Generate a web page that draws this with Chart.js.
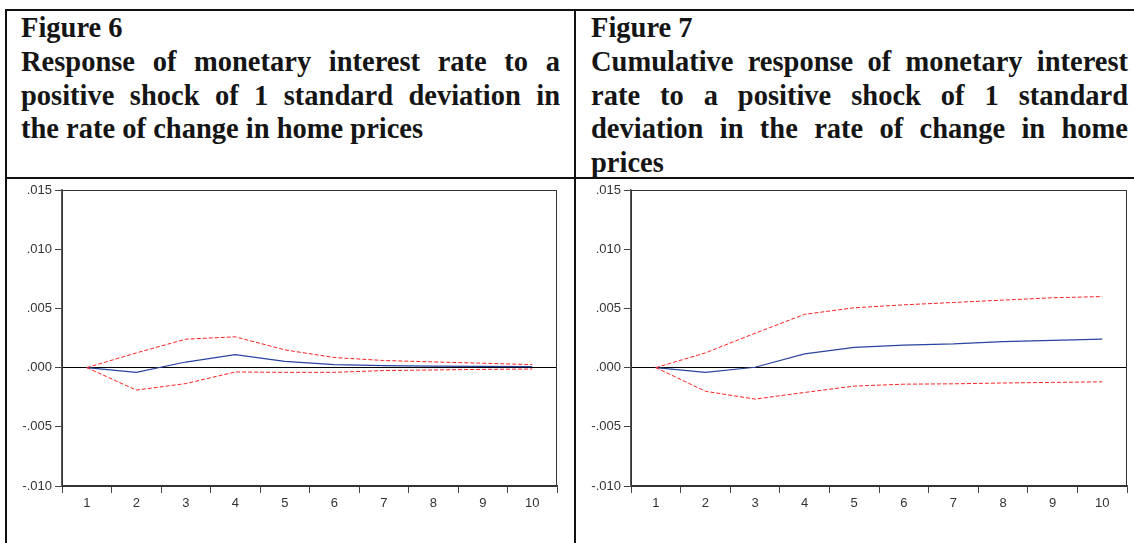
<!DOCTYPE html>
<html>
<head>
<meta charset="utf-8">
<script src="https://cdn.jsdelivr.net/npm/chart.js@4.4.0/dist/chart.umd.min.js"></script>
<style>
  body { margin: 0; background: #fff; width: 1134px; height: 543px; overflow: hidden; position: relative; }
  .rule { position: absolute; background: #111; z-index: 2; }
  .title { position: absolute; top: 11px; font-family: "Liberation Serif", "Times New Roman", serif;
           font-weight: bold; font-size: 28.5px; line-height: 33.75px; color: #151515; }
  .title div { white-space: nowrap; }
  .title .j { text-align: justify; text-align-last: justify; }
  .wrap { position: absolute; top: 178px; height: 365px; }
</style>
</head>
<body>
<div class="rule" style="left:5px;top:9px;width:1129px;height:2px"></div>
<div class="rule" style="left:5px;top:9px;width:2px;height:534px"></div>
<div class="rule" style="left:574px;top:9px;width:2px;height:534px"></div>
<div class="rule" style="left:5px;top:177px;width:1129px;height:2px"></div>

<div class="title" style="left:21px;width:539px">
  <div>Figure 6</div>
  <div class="j">Response of monetary interest rate to a</div>
  <div class="j">positive shock of 1 standard deviation in</div>
  <div>the rate of change in home prices</div>
</div>
<div class="title" style="left:591px;width:537px">
  <div>Figure 7</div>
  <div class="j">Cumulative response of monetary interest</div>
  <div class="j">rate to a positive shock of 1 standard</div>
  <div class="j">deviation in the rate of change in home</div>
  <div>prices</div>
</div>

<div class="wrap" style="left:0;width:575px"><canvas id="fig6"></canvas></div>
<div class="wrap" style="left:576px;width:558px"><canvas id="fig7"></canvas></div>

<script>
// periods after the shock
const periods = ['1', '2', '3', '4', '5', '6', '7', '8', '9', '10'];
const yTicks = [-0.010, -0.005, 0.000, 0.005, 0.010, 0.015];

// Figure 6 - impulse response with +/- 2 S.E. bands
const fig6Response = [0, -0.0004, 0.00047, 0.0011, 0.00053, 0.00025, 0.00017, 0.00012, 0.0001, 0.00008];
const fig6Upper = [0, 0.00124, 0.0024, 0.0026, 0.0015, 0.00085, 0.0006, 0.00048, 0.00037, 0.00025];
const fig6Lower = [0, -0.0019, -0.00135, -0.00037, -0.0004, -0.0004, -0.00025, -0.0002, -0.00015, -0.00012];

// Figure 7 - accumulated response
const fig7Response = [0, -0.0004, 0.00003, 0.00116, 0.0017, 0.0019, 0.002, 0.0022, 0.0023, 0.0024];
const fig7Upper = [0, 0.00124, 0.0029, 0.0045, 0.00505, 0.0053, 0.0055, 0.0057, 0.0059, 0.006];
const fig7Lower = [0, -0.002, -0.00266, -0.0021, -0.00156, -0.0014, -0.00137, -0.0013, -0.00125, -0.0012];

const plotFrame = {
    id: 'plotFrame',
    afterDraw(chart) {
        const a = chart.chartArea;
        const ctx = chart.ctx;
        ctx.save();
        ctx.strokeStyle = '#333';
        ctx.lineWidth = 1;
        ctx.strokeRect(a.left + 0.5, a.top + 0.5, a.right - a.left - 1, a.bottom - a.top);
        ctx.restore();
    }
};

function fmt(v) {
    const s = Math.abs(v).toFixed(3).replace(/^0/, '');
    return v < 0 ? '-' + s : s;
}

function makeChart(id, resp, upper, lower, yWidth, padRight) {
    const ctx = document.getElementById(id);
    const band = (data) => ({
        data: data,
        borderColor: '#ff2020',
        borderWidth: 1,
        borderDash: [4, 2],
        pointRadius: 0,
        tension: 0
    });
    return new Chart(ctx, {
        type: 'line',
        data: {
            labels: periods,
            datasets: [
                band(upper),
                band(lower),
                { data: resp, borderColor: '#2a44a0', borderWidth: 1.2, pointRadius: 0, tension: 0 }
            ]
        },
        options: {
            responsive: true,
            maintainAspectRatio: false,
            animation: false,
            layout: { padding: { top: 12, right: padRight, bottom: 0, left: 0 } },
            plugins: { legend: { display: false }, tooltip: { enabled: false } },
            scales: {
                x: {
                    offset: true,
                    grid: { offset: true, drawOnChartArea: false, tickLength: 7, tickColor: '#444', lineWidth: 1 },
                    border: { display: true, color: '#333', width: 1.5 },
                    ticks: { color: '#333', font: { family: 'Liberation Sans, Arial', size: 13 }, padding: 3, maxRotation: 0 },
                    afterFit(s) { s.height = 57; }
                },
                y: {
                    min: -0.010,
                    max: 0.015,
                    afterBuildTicks(s) { s.ticks = yTicks.map(v => ({ value: v })); },
                    grid: {
                        color: (c) => (c.tick && c.tick.value === 0 ? '#000' : 'rgba(0,0,0,0)'),
                        tickColor: '#444',
                        tickLength: 7,
                        lineWidth: 1
                    },
                    border: { display: true, color: '#555', width: 1.5 },
                    ticks: { color: '#333', font: { family: 'Liberation Sans, Arial', size: 13 }, padding: 3, callback: (v) => fmt(v) },
                    afterFit(s) { s.width = yWidth; }
                }
            }
        },
        plugins: [plotFrame]
    });
}

makeChart('fig6', fig6Response, fig6Upper, fig6Lower, 62, 18);
makeChart('fig7', fig7Response, fig7Upper, fig7Lower, 55, 7);
</script>
</body>
</html>
